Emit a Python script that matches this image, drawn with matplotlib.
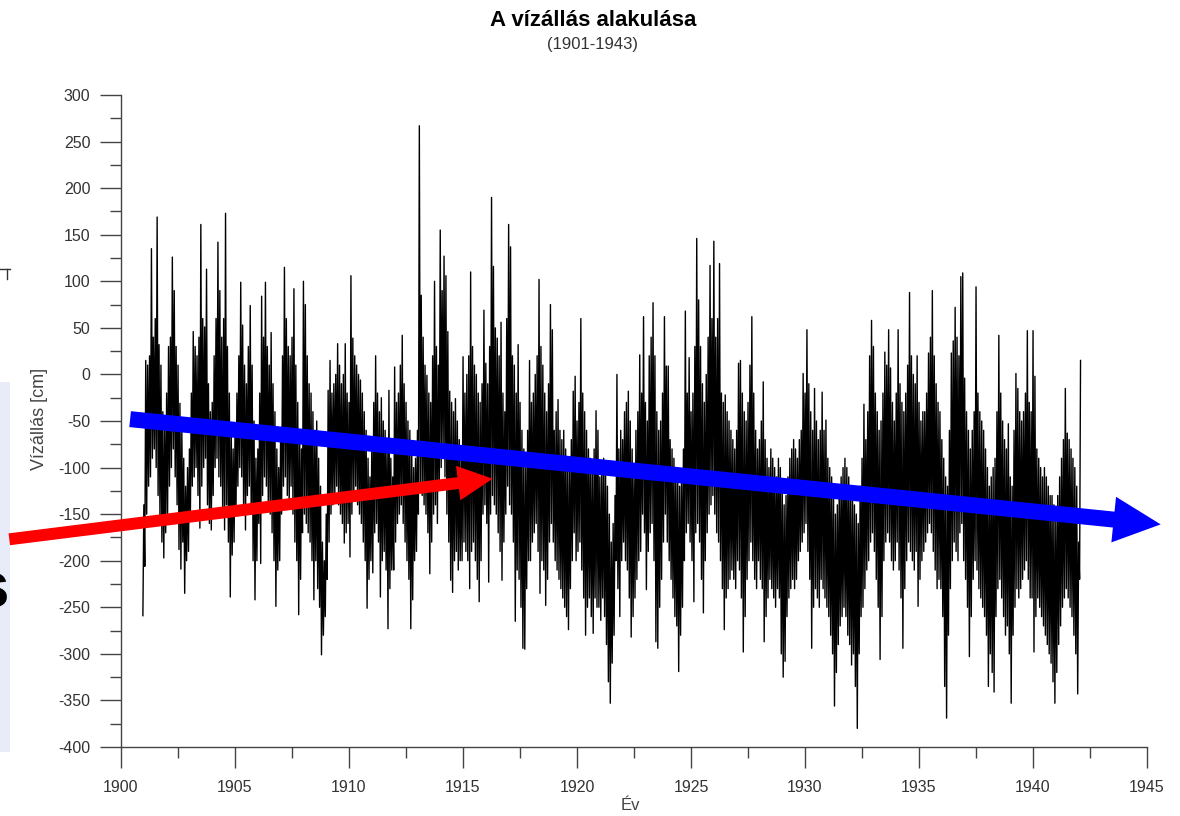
import numpy as np
import matplotlib
matplotlib.use('Agg')
import matplotlib.pyplot as plt
from matplotlib.patches import Rectangle
from matplotlib.lines import Line2D

plt.rcParams['font.family'] = ['Liberation Sans', 'DejaVu Sans']
plt.rcParams['axes.unicode_minus'] = False

# Water level in cm: monthly (low, high) pairs, one row per year from 1901
wl_1901_1910 = [
    -259, -140, -206, 15, -150, 10, -120, 20, -110, 135, -90, 40, -80, 60, -100, 169, -130, 32, -160, 10, -180, -40, -197, -60,
    -170, -20, -150, 30, -120, 40, -100, 126, -80, 90, -110, 30, -140, 10, -188, -31, -209, -60, -180, -90, -235, -120, -200, -100,
    -190, -80, -150, -20, -120, 46, -110, 30, -100, 20, -130, 40, -165, 161, -120, 60, -100, 51, -90, 113, -140, -10, -160, -40,
    -167, -30, -130, 20, -100, 60, -90, 142, -110, 90, -120, 40, -150, 60, -167, 173, -140, 30, -180, -20, -239, -60, -194, -80,
    -180, -60, -150, -20, -120, 20, -100, 99, -110, 53, -140, 10, -167, -10, -130, 30, -120, 74, -150, 10, -200, -50, -242, -90,
    -200, -80, -160, -20, -203, 84, -130, 40, -110, 99, -120, 30, -140, 10, -150, 45, -170, -10, -200, -40, -249, -80, -210, -100,
    -200, -60, -150, 20, -120, 115, -110, 60, -130, 30, -140, 20, -120, 40, -150, 92, -180, 10, -200, -30, -258, -60, -220, -80,
    -170, 100, -150, 75, -160, 20, -170, -10, -180, -20, -200, -40, -242, -60, -200, -50, -230, -90, -250, -120, -301, -180, -280, -200,
    -260, -150, -220, -17, -180, 15, -150, -20, -140, -10, -130, 0, -120, 33, -140, 10, -150, -10, -160, 0, -181, 33, -170, -20,
    -160, -30, -196, 106, -150, 39, -130, 20, -120, 10, -140, 0, -150, -6, -160, -20, -180, -40, -200, -60, -251, -90, -220, -110,
]
wl_1911_1920 = [
    -200, -70, -213, -30, -170, 20, -160, -20, -180, -40, -239, -25, -200, -50, -190, -60, -210, -70, -273, -17, -230, -90, -210, -110,
    -210, 8, -180, -30, -160, -20, -150, 10, -140, 42, -160, -10, -180, -30, -200, -50, -220, -60, -273, -80, -242, -100, -200, -90,
    -190, -60, -150, 267, -120, 85, -130, 40, -140, 10, -150, -1, -170, -20, -214, -30, -180, 20, -150, 100, -140, 30, -160, 10,
    -120, 155, -100, 90, -90, 127, -110, 106, -150, 46, -180, -18, -221, -30, -234, -40, -200, -26, -190, -50, -210, -70, -200, -90,
    -200, 19, -180, -20, -190, 0, -200, 20, -230, 110, -190, 30, -180, 10, -200, 0, -220, -20, -244, -30, -200, -10, -150, 69,
    -140, 12, -160, -10, -223, 30, -150, 190, -130, 116, -140, 50, -150, 39, -170, 20, -190, 56, -221, -20, -180, -40, -150, 60,
    -120, 161, -140, 137, -150, 20, -180, 10, -265, -20, -210, 32, -220, -30, -250, -60, -294, -80, -295, -100, -230, -60, -200, 15,
    -200, -30, -180, -20, -170, 0, -160, 20, -190, 102, -235, 30, -200, 10, -210, -20, -248, -40, -220, -10, -180, 75, -160, 48,
    -180, -60, -200, -40, -210, -27, -220, -60, -230, -70, -240, -60, -250, -80, -260, -90, -274, -100, -230, -70, -200, -18, -170, -2,
    -200, -50, -190, -30, -180, 60, -210, -20, -240, -40, -280, -60, -250, -80, -240, -90, -260, -100, -278, -80, -240, -39, -250, -60,
]
wl_1921_1930 = [
    -250, -110, -264, -100, -240, -90, -260, -100, -290, -120, -330, -150, -353, -180, -310, -160, -280, -130, -200, 0, -230, -80, -260, -60,
    -200, -70, -180, -40, -200, -30, -210, -18, -240, -50, -282, -80, -260, -100, -240, -60, -220, -40, -200, 21, -190, -20, -150, 62,
    -170, -30, -231, -50, -190, 20, -170, 40, -160, 77, -200, 20, -287, -40, -294, -60, -250, -50, -220, -20, -180, 62, -150, 9,
    -180, 9, -200, -70, -220, -80, -240, -90, -260, -100, -270, -110, -319, -120, -280, -110, -250, -80, -200, 68, -170, -20, -160, 18,
    -180, -40, -200, -20, -244, 30, -170, 146, -160, 80, -180, 30, -220, -10, -256, -30, -200, 0, -170, 40, -150, 117, -140, 60,
    -130, 143, -150, 40, -170, 60, -180, 119, -200, -20, -230, -30, -274, -22, -240, -40, -230, -50, -220, -60, -210, -70, -220, -80,
    -230, -60, -200, 12, -210, 15, -240, -20, -298, -40, -260, -50, -220, -30, -200, 10, -180, 62, -200, -20, -220, -60, -230, -80,
    -200, -70, -220, -50, -230, -8, -287, -70, -260, -90, -240, -100, -220, -80, -230, -90, -240, -100, -250, -110, -230, -90, -240, -100,
    -300, -120, -325, -140, -308, -130, -260, -110, -240, -90, -230, -80, -220, -70, -230, -80, -220, -90, -200, -70, -190, -60, -180, 1,
    -170, -20, -160, 48, -190, -10, -220, -40, -294, -60, -250, -15, -230, -50, -240, -70, -250, -60, -220, -19, -230, -60, -240, -49,
]
wl_1931_1942 = [
    -250, -90, -260, -100, -280, -110, -300, -130, -356, -150, -320, -140, -290, -120, -270, -110, -260, -100, -250, -90, -260, -100, -280, -110,
    -290, -120, -312, -130, -300, -140, -335, -150, -380, -160, -300, -120, -260, -90, -250, -32, -230, -70, -210, -40, -200, 20, -180, 58,
    -170, 30, -190, -20, -220, -40, -250, -60, -306, -50, -260, -20, -200, 24, -180, 10, -170, 48, -180, 7, -200, -30, -210, -50,
    -200, -20, -180, 48, -210, -10, -240, -30, -294, -40, -230, -20, -200, 10, -180, 88, -190, 20, -200, 0, -210, -10, -190, 20,
    -249, -30, -220, -50, -200, -40, -190, -40, -180, -20, -170, 23, -160, 40, -170, 90, -190, 20, -210, -10, -230, -30, -220, -40,
    -230, -70, -260, -90, -335, -110, -369, -120, -280, -60, -230, 23, -200, 36, -180, 72, -190, 40, -200, 20, -170, 105, -160, 109,
    -200, -4, -220, -40, -250, -60, -303, -80, -260, -60, -220, -40, -200, 94, -210, -20, -230, -40, -240, -50, -250, -60, -260, -80,
    -280, -100, -335, -120, -300, -110, -320, -100, -341, -90, -260, -40, -230, 42, -220, -20, -240, -50, -260, -70, -280, -80, -270, -53,
    -300, -110, -353, -120, -280, -60, -250, 1, -230, -15, -240, -40, -230, -50, -220, -40, -210, -20, -200, 47, -220, -30, -240, -40,
    -240, 47, -298, -2, -260, -80, -240, -90, -250, -100, -260, -110, -270, -100, -280, -110, -290, -120, -300, -130, -310, -130, -330, -140,
    -353, -150, -320, -130, -290, -110, -270, -90, -250, -70, -240, -15, -230, -63, -240, -70, -250, -80, -260, -90, -280, -100, -300, -120,
    -343, -180, -220, 15,
]

first_year = 1901
per_year = 24

# trend arrows drawn over the chart (start, tip) in year / cm
blue_arrow = [(1900.4, -48), (1945.6, -161)]
red_arrow = [(1895.1, -177), (1916.3, -112)]

level = np.array(wl_1901_1910 + wl_1911_1920 + wl_1921_1930 + wl_1931_1942)
t = first_year - 0.04 + np.arange(len(level)) / per_year

W, H = 1180, 816
fig = plt.figure(figsize=(W / 100, H / 100), dpi=100)

# pieces of the slide visible at the left edge
fig.add_artist(Rectangle((0, 1 - 752 / H), 10 / W, (752 - 382) / H,
                         transform=fig.transFigure, color='#e8ecf8', lw=0, zorder=0))
fig.add_artist(Line2D([0, 10 / W], [1 - 269 / H] * 2, transform=fig.transFigure, color='#333', lw=1))
fig.add_artist(Line2D([7 / W] * 2, [1 - 269 / H, 1 - 279 / H], transform=fig.transFigure, color='#333', lw=1))
fig.text(9 / W, 1 - 590 / H, 's', ha='right', va='center', fontsize=46, fontweight='bold', color='black')

ax = fig.add_axes([121 / W, 69 / H, 1026 / W, 652 / H])
ax.patch.set_alpha(0)
ax.plot(t, level, color='black', lw=1.0)

ax.set_xlim(1900, 1945)
ax.set_ylim(-400, 300)
ax.set_xticks(np.arange(1900, 1946, 5))
ax.set_xticks(np.arange(1902.5, 1945, 5), minor=True)
ax.set_yticks(np.arange(-400, 301, 50))
ax.set_yticks(np.arange(-375, 300, 50), minor=True)
ax.tick_params(which='major', direction='out', length=15, width=1, color='#444',
               labelsize=11.5, labelcolor='#333')
ax.tick_params(which='minor', direction='out', length=8, width=1, color='#444')
ax.tick_params(axis='x', pad=9)
ax.tick_params(axis='y', pad=7)
for s in ['top', 'right']:
    ax.spines[s].set_visible(False)
for s in ['left', 'bottom']:
    ax.spines[s].set_color('#444')
    ax.spines[s].set_linewidth(1)

fig.text(593 / W, 1 - 20 / H, 'A vízállás alakulása', ha='center', va='center',
         fontsize=16, fontweight='bold')
fig.text(593 / W, 1 - 45 / H, '(1901-1943)', ha='center', va='center', fontsize=12, color='#333')
fig.text(40 / W, 1 - 419 / H, 'Vízállás [cm]', ha='center', va='center', rotation=90,
         fontsize=13, color='#444')
fig.text(630 / W, 1 - 806 / H, 'Év', ha='center', va='center', fontsize=12, color='#444')

ax.annotate('', xy=blue_arrow[1], xytext=blue_arrow[0], annotation_clip=False,
            arrowprops=dict(arrowstyle='simple,head_length=34,head_width=33,tail_width=11.5',
                            mutation_scale=1, color='#0000ff', lw=0, shrinkA=0, shrinkB=0))
ax.annotate('', xy=red_arrow[1], xytext=red_arrow[0], annotation_clip=False,
            arrowprops=dict(arrowstyle='simple,head_length=25,head_width=25,tail_width=8.6',
                            mutation_scale=1, color='#ff0000', lw=0, shrinkA=0, shrinkB=0))

plt.savefig('out.png', dpi=100)
